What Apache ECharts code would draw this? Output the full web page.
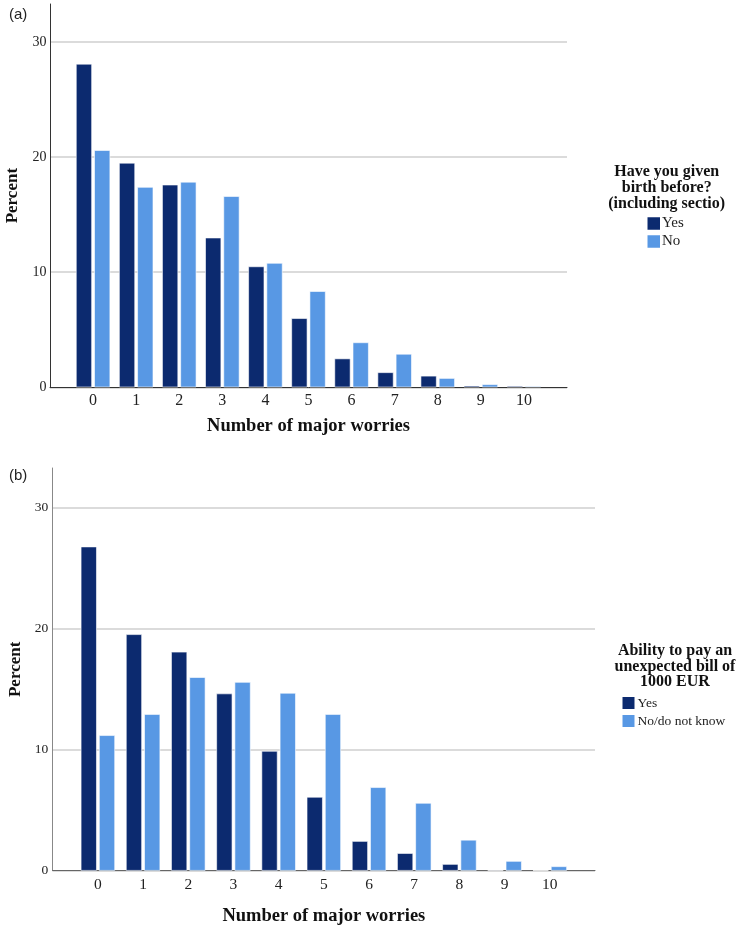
<!DOCTYPE html>
<html>
<head>
<meta charset="utf-8">
<script src="https://cdn.jsdelivr.net/npm/echarts@6/dist/echarts.min.js"></script>
<style>
html,body{margin:0;padding:0;background:#fff;}
#main{width:738px;height:929px;}
</style>
</head>
<body>
<div id="main"></div>
<script>
const categories = ['0','1','2','3','4','5','6','7','8','9','10'];
const yTicks = [0, 10, 20, 30];

const birthYes = [28.1, 19.5, 17.6, 13.0, 10.5, 6.0, 2.5, 1.3, 1.0, 0.14, 0.12];
const birthNo  = [20.6, 17.4, 17.85, 16.6, 10.8, 8.35, 3.9, 2.9, 0.8, 0.26, 0.1];

const billYes = [26.8, 19.55, 18.1, 14.65, 9.9, 6.1, 2.45, 1.45, 0.55, 0.06, 0.05];
const billNo  = [11.2, 12.95, 16.0, 15.6, 14.7, 12.95, 6.9, 5.6, 2.55, 0.8, 0.36];

const legendA = {title: 'Have you given\nbirth before?\n(including sectio)', items: ['Yes', 'No']};
const legendB = {title: 'Ability to pay an\nunexpected bill of\n1000 EUR', items: ['Yes', 'No/do not know']};

const DARK = '#0c2a6f';
const LIGHT = '#5898e4';
const SERIF = '"Liberation Serif", "DejaVu Serif", serif';
const SANS = '"Liberation Sans", Arial, sans-serif';

const padCats = [''].concat(categories, ['']);
const pad = arr => [null].concat(arr, [null]);

function xAxis(gi) {
  return {
    type: 'category', gridIndex: gi, data: padCats, boundaryGap: false,
    axisLine: {lineStyle: {color: gi === 0 ? '#333' : '#666', width: 1}},
    axisTick: {show: false},
    axisLabel: {color: '#222', fontFamily: SERIF, fontSize: gi === 0 ? 16 : 15.5, margin: gi === 0 ? 5 : 6.5, interval: 0},
    name: 'Number of major worries', nameLocation: 'middle', nameGap: gi === 0 ? 29 : 36,
    nameTextStyle: {fontFamily: SERIF, fontWeight: 'bold', fontSize: 18.5, color: '#111'}
  };
}
function yAxis(gi) {
  return {
    type: 'value', gridIndex: gi, min: 0, max: 33.3, interval: 10,
    axisLine: {show: true, lineStyle: {color: gi === 0 ? '#333' : '#888', width: 1}},
    axisTick: {show: false},
    axisLabel: {color: '#222', fontFamily: SERIF, fontSize: gi === 0 ? 14 : 13.5, margin: gi === 0 ? 3.5 : 4.5,
      formatter: v => yTicks.indexOf(v) >= 0 ? String(v) : ''},
    splitLine: {show: true, lineStyle: {color: ['#cfcfcf','#cfcfcf','#cfcfcf','#cfcfcf','rgba(0,0,0,0)'], width: 1.5}},
    name: 'Percent', nameLocation: 'middle', nameGap: gi === 0 ? 27.5 : 29, nameRotate: 90,
    nameTextStyle: {fontFamily: SERIF, fontWeight: 'bold', fontSize: 17, color: '#111'}
  };
}
function bar(name, data, color, gi) {
  return {
    type: 'bar', name: name, xAxisIndex: gi, yAxisIndex: gi, data: pad(data),
    barWidth: 16, barGap: '14%',
    itemStyle: {color: color, borderColor: '#fff', borderWidth: 0.6},
    emphasis: {disabled: true}
  };
}

const chart = echarts.init(document.getElementById('main'), null, {renderer: 'canvas'});
chart.setOption({
  animation: false,
  backgroundColor: '#fff',
  title: [
    {text: '(a)', left: 4, top: 2, textStyle: {fontFamily: SANS, fontWeight: 'normal', fontSize: 15, color: '#222'}},
    {text: '(b)', left: 4, top: 463, textStyle: {fontFamily: SANS, fontWeight: 'normal', fontSize: 15, color: '#222'}},
    {text: legendA.title, left: 666.7, top: 163.5, textAlign: 'center', padding: 0,
      textStyle: {fontFamily: SERIF, fontWeight: 'bold', fontSize: 16, lineHeight: 16, color: '#111'}},
    {text: legendB.title, left: 675, top: 643.5, textAlign: 'center', padding: 0,
      textStyle: {fontFamily: SERIF, fontWeight: 'bold', fontSize: 16, lineHeight: 15.5, color: '#111'}}
  ],
  grid: [
    {left: 50, right: 171, top: 4, height: 383.3, containLabel: false, outerBoundsMode: 'none'},
    {left: 52.7, right: 143, top: 468, height: 402.7, containLabel: false, outerBoundsMode: 'none'}
  ],
  xAxis: [xAxis(0), xAxis(1)],
  yAxis: [yAxis(0), yAxis(1)],
  legend: [
    {orient: 'vertical', left: 647.5, top: 216, padding: 0, itemWidth: 12.5, itemHeight: 12.5, itemGap: 3,
      itemStyle: {borderWidth: 0},
      data: legendA.items.map(n => ({name: n, icon: 'rect'})),
      textStyle: {fontFamily: SERIF, fontSize: 15, color: '#222', padding: [0,0,0,-3]},
      selectedMode: false},
    {orient: 'vertical', left: 622.5, top: 696, padding: 0, itemWidth: 12, itemHeight: 12, itemGap: 4,
      itemStyle: {borderWidth: 0},
      data: legendB.items.map(n => ({name: n, icon: 'rect'})),
      textStyle: {fontFamily: SERIF, fontSize: 13.5, color: '#222', padding: [0,0,0,-2]},
      selectedMode: false}
  ],
  series: [
    bar('Yes', birthYes, DARK, 0),
    bar('No', birthNo, LIGHT, 0),
    bar('Yes', billYes, DARK, 1),
    bar('No/do not know', billNo, LIGHT, 1)
  ]
});
</script>
</body>
</html>
